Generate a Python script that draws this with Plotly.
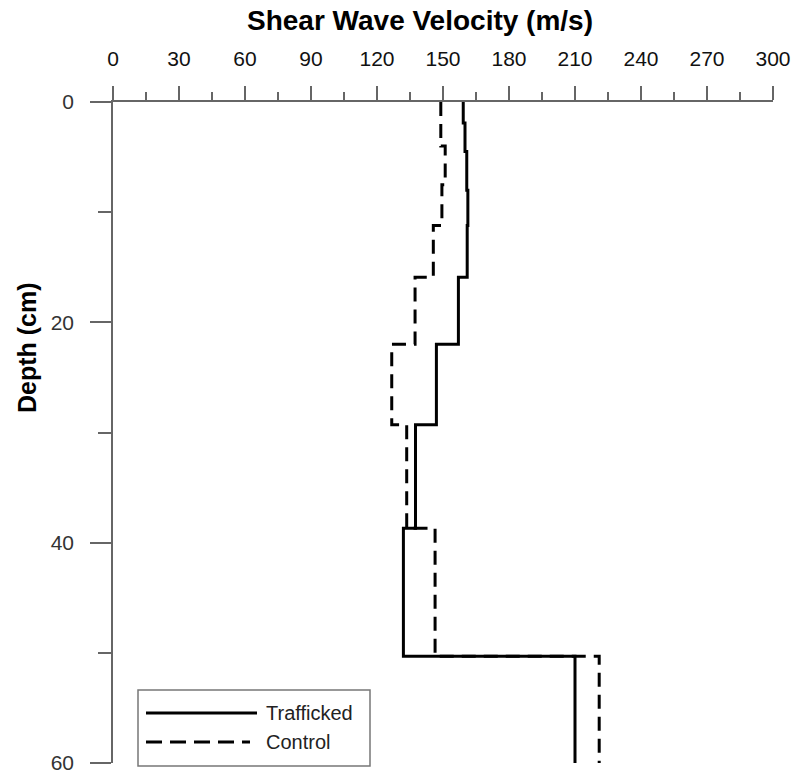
import plotly.graph_objects as go

# Layer tops (cm) and shear wave velocities (m/s)
depth_top_traf = [0, 1.9, 4.5, 8.0, 11.2, 15.9, 22.0, 29.3, 38.7, 50.3]
vs_traf = [159.2, 160.0, 160.8, 161.3, 161.0, 157.0, 147.0, 137.5, 132.0, 210.0]
depth_top_ctrl = [0, 4.0, 7.5, 11.2, 15.9, 22.0, 29.3, 38.7, 50.3]
vs_ctrl = [149.0, 151.0, 149.5, 145.6, 137.3, 126.7, 133.5, 146.4, 221.0]
max_depth = 60

x_ticks = list(range(0, 301, 30))
y_ticks = [0, 20, 40, 60]

FONT = "Arial, Liberation Sans, sans-serif"

fig = go.Figure()
fig.add_trace(go.Scatter(
    x=vs_traf + [vs_traf[-1]], y=depth_top_traf + [max_depth],
    mode="lines", line=dict(color="black", width=3, shape="vh"),
    name="Trafficked", showlegend=False))
fig.add_trace(go.Scatter(
    x=vs_ctrl + [vs_ctrl[-1]], y=depth_top_ctrl + [max_depth],
    mode="lines", line=dict(color="black", width=3, shape="vh", dash="14px,8px"),
    name="Control", showlegend=False))

axis_col = "#666666"
fig.update_layout(
    width=798, height=773,
    margin=dict(l=113, r=25, t=102, b=10, autoexpand=False),
    plot_bgcolor="white", paper_bgcolor="white",
    font=dict(family=FONT, color="#222222"),
    title=dict(text="<b>Shear Wave Velocity (m/s)</b>", x=420/798, y=1-20/773,
               xanchor="center", yanchor="middle", font=dict(size=28, color="black")),
    xaxis=dict(range=[0, 300], side="top", tickvals=x_ticks, ticktext=[str(v) for v in x_ticks],
               ticks="outside", ticklen=14, tickwidth=1.5, tickcolor=axis_col,
               showline=True, linecolor=axis_col, linewidth=1.5,
               showgrid=False, zeroline=False, automargin=False,
               ticklabelstandoff=12, ticklabeloverflow="allow",
               tickfont=dict(size=21, color="#111111"),
               minor=dict(dtick=15, tick0=0, ticks="outside", ticklen=8, tickwidth=1.5,
                          tickcolor=axis_col, showgrid=False)),
    yaxis=dict(range=[max_depth, 0], tickvals=y_ticks, ticktext=[str(v) for v in y_ticks],
               ticks="outside", ticklen=21, tickwidth=1.5, tickcolor=axis_col,
               showline=True, linecolor=axis_col, linewidth=1.5,
               showgrid=False, zeroline=False, automargin=False,
               ticklabelstandoff=12, ticklabeloverflow="allow",
               tickfont=dict(size=21, color="#333333"),
               minor=dict(dtick=10, tick0=0, ticks="outside", ticklen=13, tickwidth=1.5,
                          tickcolor=axis_col, showgrid=False)),
    showlegend=False,
)

def px(xp):
    return (xp - 113) / 660

def py(yp):
    return (763 - yp) / 661

# Y axis title
fig.add_annotation(text="<b>Depth (cm)</b>", textangle=-90, xref="paper", yref="paper",
                   x=px(27), y=py(348), showarrow=False, xanchor="center", yanchor="middle",
                   font=dict(size=25, color="black"))

# Legend box drawn manually
fig.add_shape(type="rect", xref="paper", yref="paper", x0=px(138), x1=px(370), y0=py(766), y1=py(690),
              line=dict(color="#777777", width=1.5), fillcolor="white", layer="above")
fig.add_shape(type="line", xref="paper", yref="paper", x0=px(146), x1=px(257), y0=py(713), y1=py(713),
              line=dict(color="black", width=3))
fig.add_shape(type="line", xref="paper", yref="paper", x0=px(146), x1=px(250), y0=py(742), y1=py(742),
              line=dict(color="black", width=3, dash="16px,8px"))
for name, yp in [("Trafficked", 713), ("Control", 742)]:
    fig.add_annotation(text=name, xref="paper", yref="paper", x=px(264), y=py(yp),
                       showarrow=False, xanchor="left", yanchor="middle",
                       font=dict(size=20, color="#222222"))

fig.write_html("out.html")
